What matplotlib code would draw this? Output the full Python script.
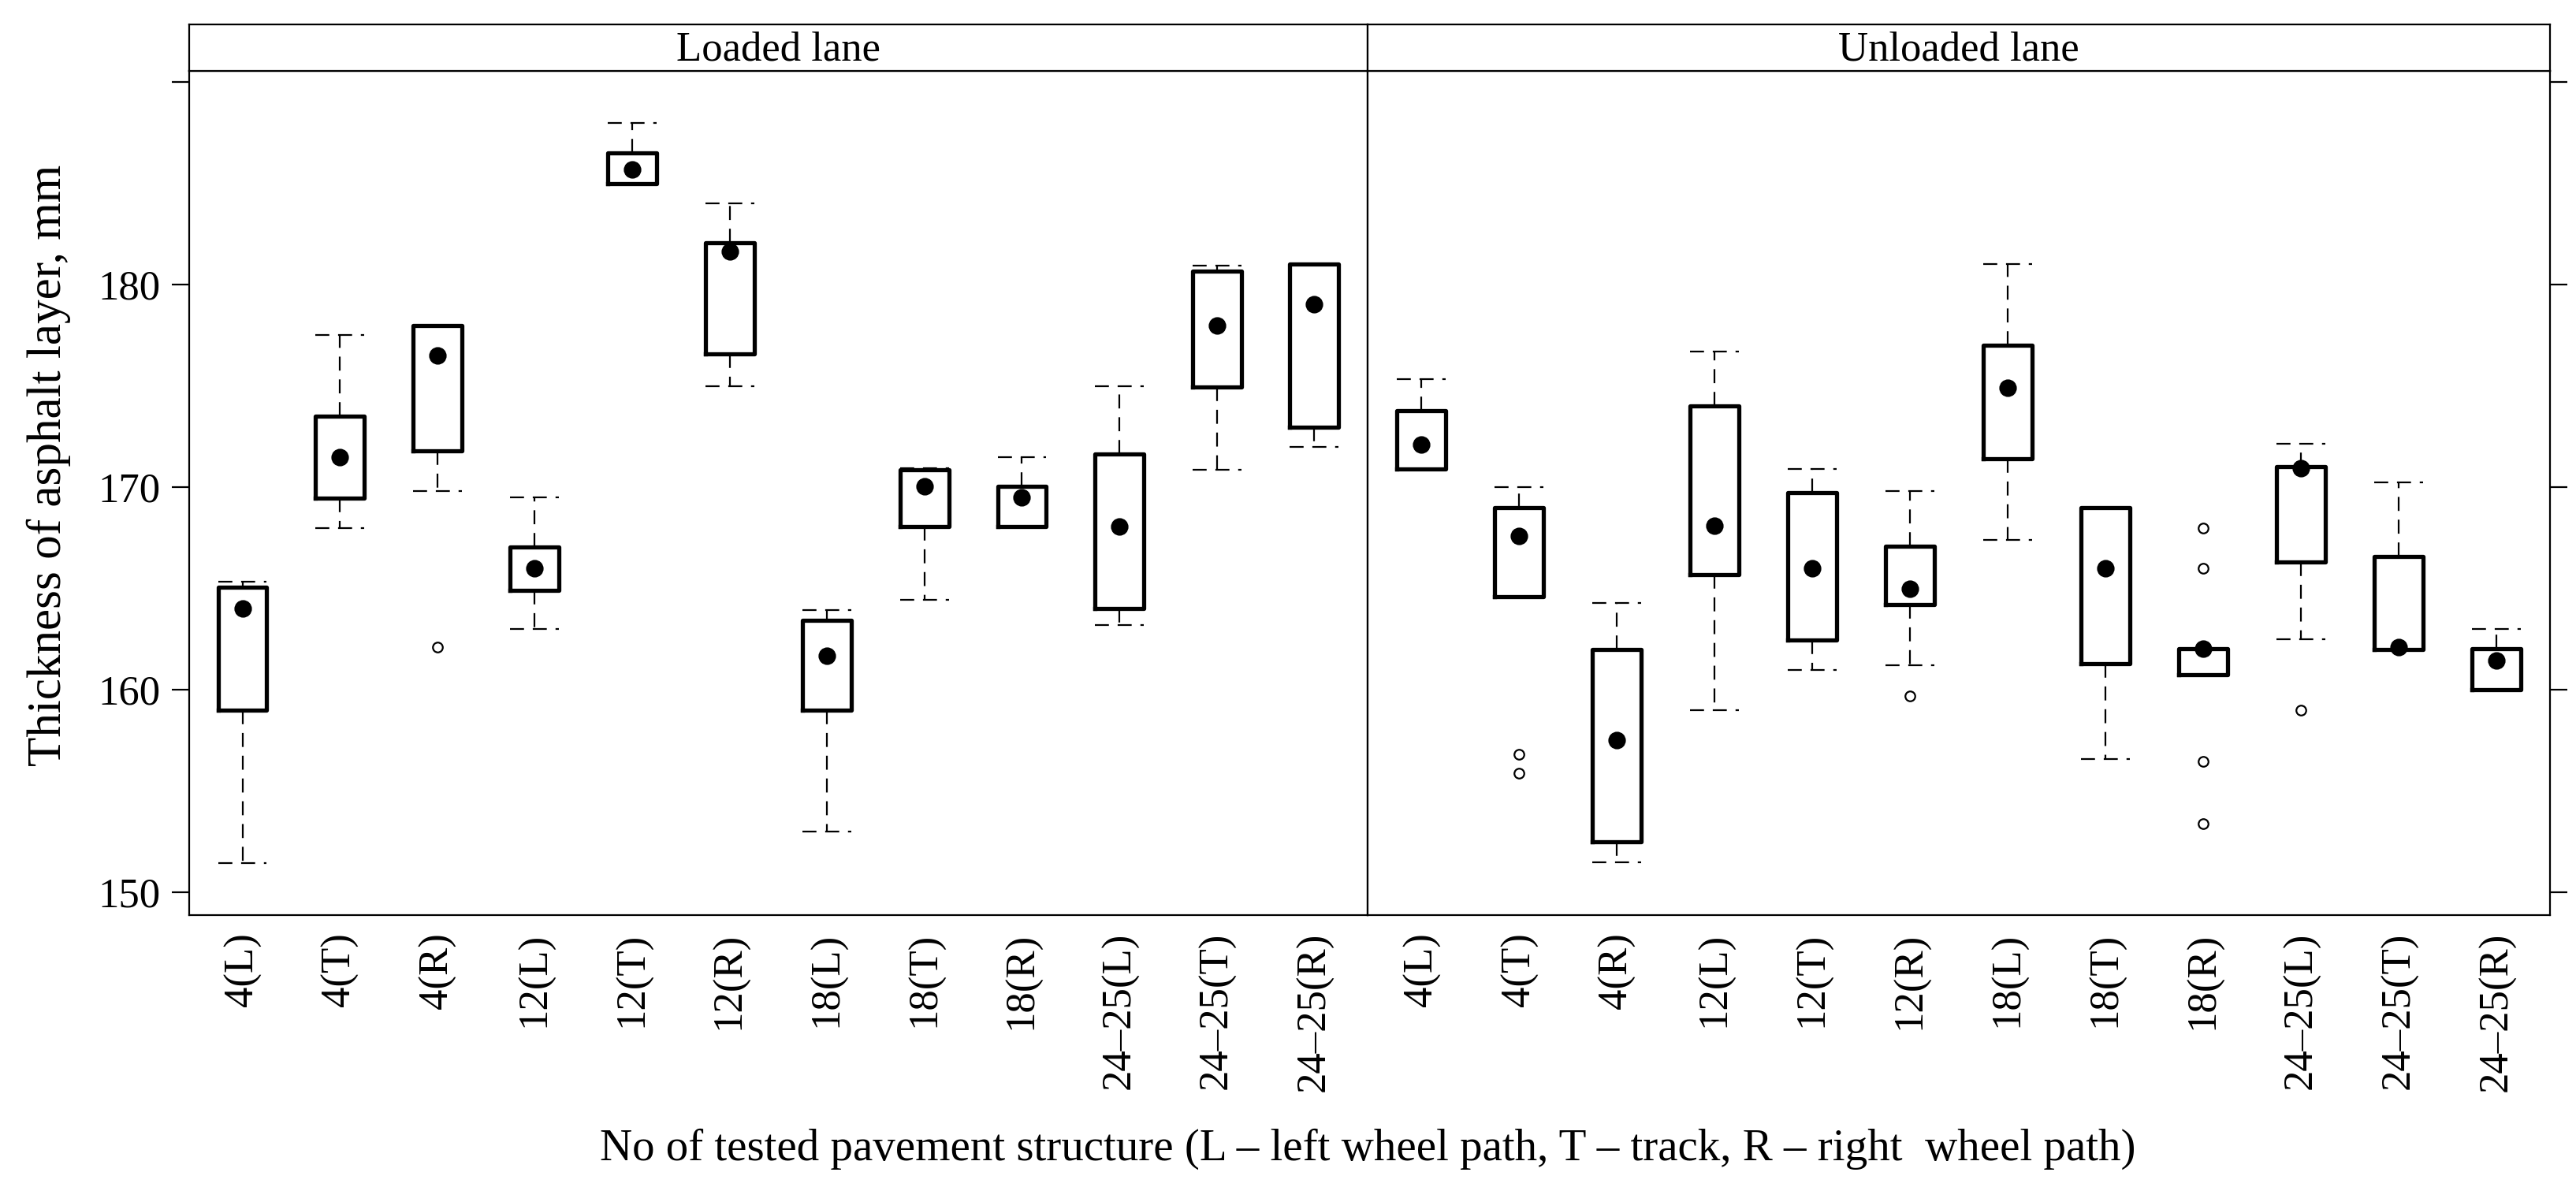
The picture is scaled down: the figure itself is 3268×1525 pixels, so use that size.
import matplotlib
matplotlib.use('Agg')
import matplotlib.pyplot as plt

plt.rcParams['font.family'] = ['Liberation Serif', 'DejaVu Serif']

# ---------------- data ----------------
categories = ['4(L)', '4(T)', '4(R)', '12(L)', '12(T)', '12(R)',
              '18(L)', '18(T)', '18(R)', '24–25(L)', '24–25(T)', '24–25(R)']
panel_titles = ['Loaded lane', 'Unloaded lane']

# Loaded lane
loaded_whislo = [151.45, 168.0, 169.8, 163.0, 185.0, 175.0, 153.0, 164.45, 168.05, 163.2, 170.85, 172.0]
loaded_q1     = [159.0, 169.45, 171.8, 164.9, 185.0, 176.6, 159.0, 168.05, 168.05, 164.0, 174.95, 172.95]
loaded_med    = [164.0, 171.5, 176.5, 166.0, 185.7, 181.65, 161.7, 170.05, 169.5, 168.05, 178.0, 179.05]
loaded_q3     = [165.05, 173.5, 178.0, 167.05, 186.5, 182.05, 163.45, 170.85, 170.05, 171.65, 180.65, 181.0]
loaded_whishi = [165.35, 177.5, 178.0, 169.5, 188.0, 184.0, 163.95, 170.95, 171.5, 175.0, 180.95, 181.0]
loaded_fliers = [[], [], [162.1], [], [], [], [], [], [], [], [], []]

# Unloaded lane
unloaded_whislo = [170.9, 164.6, 151.5, 159.0, 161.0, 161.2, 167.4, 156.6, 160.75, 162.5, 162.0, 160.0]
unloaded_q1     = [170.9, 164.6, 152.5, 165.7, 162.45, 164.2, 171.4, 161.3, 160.75, 166.3, 162.0, 160.0]
unloaded_med    = [172.1, 167.6, 157.5, 168.1, 166.0, 165.0, 174.9, 166.0, 162.05, 170.95, 162.1, 161.45]
unloaded_q3     = [173.8, 169.0, 162.0, 174.0, 169.75, 167.1, 177.0, 169.0, 162.05, 171.0, 166.6, 162.05]
unloaded_whishi = [175.35, 170.0, 164.3, 176.7, 170.9, 169.8, 181.0, 169.0, 162.05, 172.15, 170.25, 163.0]
unloaded_fliers = [[], [156.8, 155.9], [], [], [], [159.7], [], [],
                   [168.0, 166.0, 156.45, 153.4], [159.0], [], []]

ytick_values = [150, 160, 170, 180, 190]
ytick_labels = ['150', '160', '170', '180', '']
xlabel = 'No of tested pavement structure (L – left wheel path, T – track, R – right  wheel path)'
ylabel = 'Thickness of asphalt layer, mm'

# ---------------- figure ----------------
fig = plt.figure(figsize=(16.34, 7.625), dpi=200)

x_left, x_mid, x_right = 0.0733, 0.531, 0.990
y_bot, y_top, y_strip = 0.239, 0.941, 0.9795
ylim = (148.9, 190.55)
xlim = (0.45, 12.55)
FS_TICK = 19
FS_STRIP = 19
FS_XLAB = 20.5
FS_YLAB = 22

datasets = [
    (loaded_whislo, loaded_q1, loaded_med, loaded_q3, loaded_whishi, loaded_fliers),
    (unloaded_whislo, unloaded_q1, unloaded_med, unloaded_q3, unloaded_whishi, unloaded_fliers),
]
positions = list(range(1, len(categories) + 1))

dash = (0, (8, 5))
for i, (data, title) in enumerate(zip(datasets, panel_titles)):
    x0 = x_left if i == 0 else x_mid
    x1 = x_mid if i == 0 else x_right
    ax = fig.add_axes([x0, y_bot, x1 - x0, y_top - y_bot])
    lo, q1, med, q3, hi, fl = data
    stats = [dict(whislo=a, q1=b, med=c, q3=d, whishi=e, fliers=f)
             for a, b, c, d, e, f in zip(lo, q1, med, q3, hi, fl)]
    ax.bxp(stats, positions=positions, widths=0.5, capwidths=0.5,
           showfliers=True,
           boxprops=dict(color='black', linewidth=1.9),
           whiskerprops=dict(color='black', linewidth=0.8, linestyle=dash),
           capprops=dict(color='black', linewidth=0.8, linestyle=dash),
           medianprops=dict(linestyle='none'),
           flierprops=dict(marker='o', markerfacecolor='none', markeredgecolor='black',
                           markersize=4.5, markeredgewidth=0.8))
    ax.plot(positions, med, 'o', color='black', markersize=7, zorder=5)
    ax.set_xlim(*xlim)
    ax.set_ylim(*ylim)
    ax.set_xticks(positions)
    ax.set_xticklabels(categories, rotation=90, fontsize=FS_TICK)
    ax.tick_params(axis='x', length=0, pad=8)
    ax.set_yticks(ytick_values)
    if i == 0:
        ax.set_yticklabels(ytick_labels, fontsize=FS_TICK)
        ax.tick_params(axis='y', direction='out', length=8, width=0.8, pad=5,
                       left=True, right=False, labelleft=True)
    else:
        ax.tick_params(axis='y', direction='out', length=8, width=0.8,
                       left=False, right=True, labelleft=False, labelright=False)
    for sp in ax.spines.values():
        sp.set_linewidth(0.8)

    sax = fig.add_axes([x0, y_top, x1 - x0, y_strip - y_top])
    sax.set_xticks([])
    sax.set_yticks([])
    for sp in sax.spines.values():
        sp.set_linewidth(0.8)
    sax.text(0.5, 0.45, title, ha='center', va='center', fontsize=FS_STRIP,
             transform=sax.transAxes)

fig.text(x_mid, 0.044, xlabel, ha='center', va='center', fontsize=FS_XLAB)
fig.text(0.019, 0.613, ylabel, ha='center', va='center', rotation=90, fontsize=FS_YLAB)

fig.savefig('out.png', dpi=200, facecolor='white')
